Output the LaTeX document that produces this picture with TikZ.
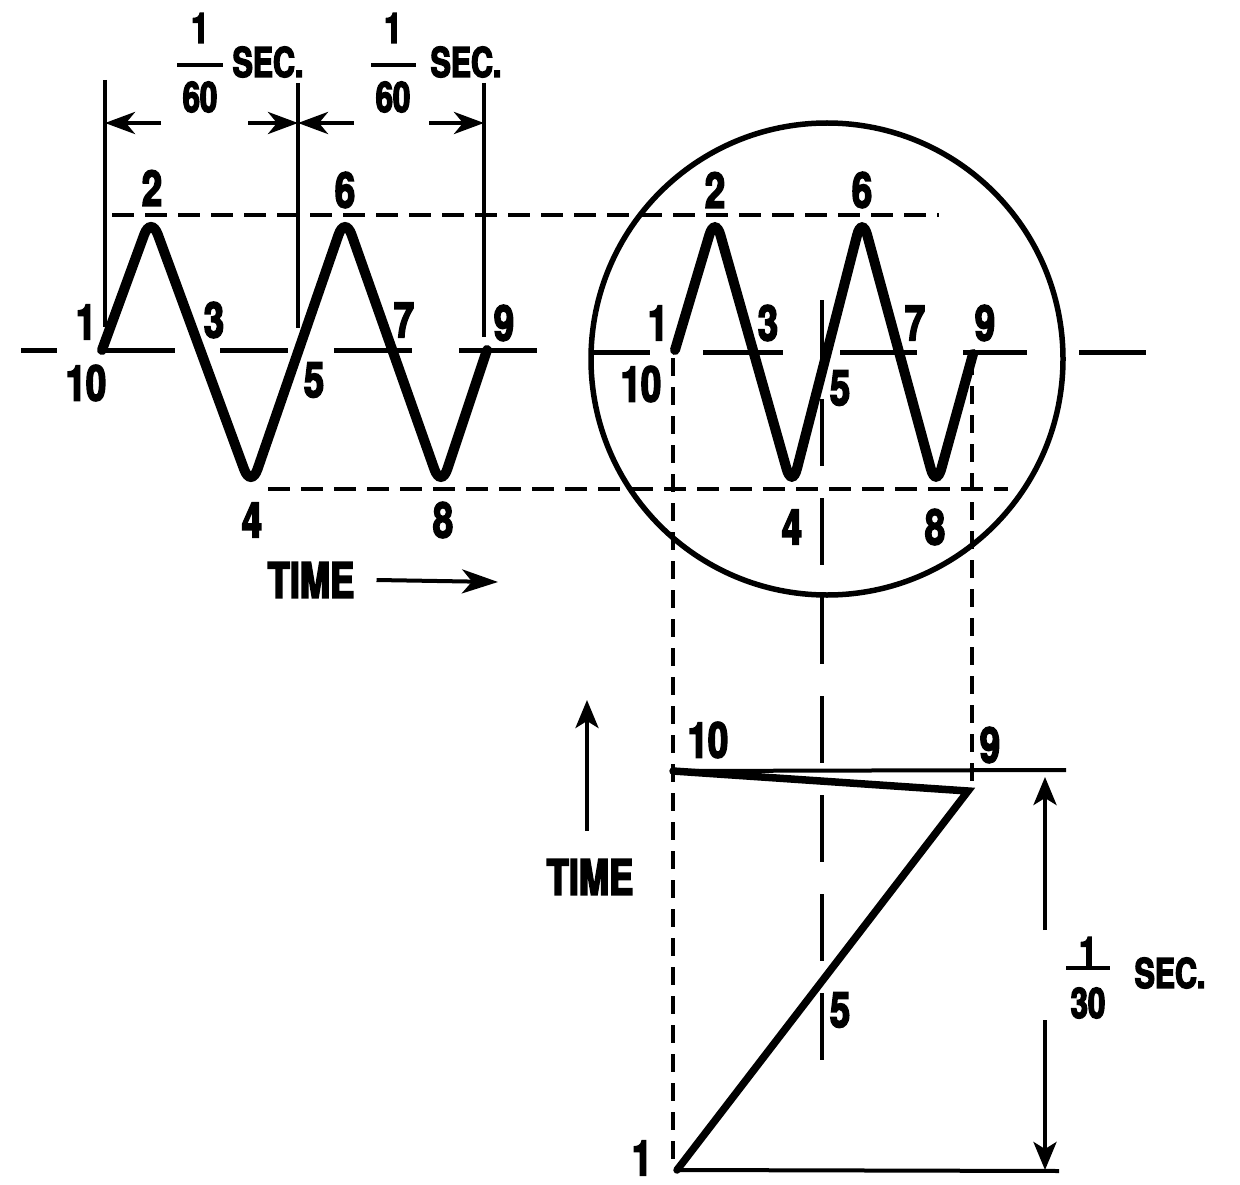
\documentclass[tikz,border=0pt]{standalone}
\usepackage{fontspec}
\newfontfamily\condfont{TeX Gyre Heros}[FakeStretch=0.74, BoldFeatures={FakeBold=3.5}]
\usetikzlibrary{arrows.meta}

\begin{document}
\begin{tikzpicture}[
    x=1pt, y=-1pt,
    wave/.style    ={line width=10pt, rounded corners=20pt, line cap=round},
    zpath/.style   ={line width=7.5pt, line cap=round},
    axisline/.style={line width=5pt},
    hline/.style   ={line width=4pt},
    hdash/.style   ={line width=4.5pt, dash pattern=on 22pt off 11pt},
    vdash/.style   ={line width=4pt, dash pattern=on 18pt off 11pt},
    ldash/.style   ={line width=4.5pt, dash pattern=on 67pt off 32pt},
    dim/.style     ={line width=4.5pt, -{Stealth[length=30pt, width=22pt, inset=9pt]}},
    timearrow/.style={line width=4pt, -{Stealth[length=36pt, width=24pt, inset=10pt]}},
    bigdim/.style  ={line width=4pt, -{Stealth[length=28pt, width=23pt, inset=7pt]}},
    num/.style     ={font=\condfont\bfseries\fontsize{49}{49}\selectfont, inner sep=0pt},
    frac/.style    ={font=\condfont\bfseries\fontsize{42}{42}\selectfont, inner sep=0pt},
    sec/.style     ={font=\condfont\bfseries\fontsize{41}{41}\selectfont, inner sep=0pt},
    fracbar/.style ={line width=4pt}
  ]
  \useasboundingbox (0,0) rectangle (1240,1185);

  % ---- dashed guides (peaks, troughs, projections) --------------------
  \draw[hdash] (112,215) -- (939,215);
  \draw[hdash] (268,489) -- (1008,489);
  \draw[vdash] (673,358) -- (673,1162);
  \draw[vdash] (972,357) -- (972,788);
  \draw[ldash] (822,300) -- (822,1060);

  % ---- left: signal against time --------------------------------------
  \draw[axisline] (21,350) -- (57,350);
  \draw[axisline] (105,350) -- (175,350);
  \draw[axisline] (220,350) -- (288,350);
  \draw[axisline] (334,350) -- (412,350);
  \draw[axisline] (459,350) -- (537,350);

  \coordinate (a1) at (102,350);
  \coordinate (a2) at (151,216);
  \coordinate (a4) at (251,488);
  \coordinate (a6) at (345,216);
  \coordinate (a8) at (441,488);
  \coordinate (a9) at (487,350);
  \draw[wave] (a1) -- (a2) -- (a4) -- (a6) -- (a8) -- (a9);

  \node[num] (l1)  at (86,322)  {1};
  \node[num] (l10) at (86,383)  {10};
  \node[num] (l2)  at (152,188) {2};
  \node[num] (l3)  at (214,320) {3};
  \node[num] (l4)  at (252,520) {4};
  \node[num] (l5)  at (314,380) {5};
  \node[num] (l6)  at (345,190) {6};
  \node[num] (l7)  at (404,320) {7};
  \node[num] (l8)  at (443,520) {8};
  \node[num] (l9)  at (504,323) {9};

  \node[num] (ltime) at (311,580) {TIME};
  \coordinate (ltimeend) at (498,582);
  \draw[timearrow] ([xshift=22pt]ltime.east) -- (ltimeend);

  % ---- 1/60 sec. dimensions -------------------------------------------
  \draw[hline] (105,80) -- (105,327);
  \draw[hline] (298,83) -- (298,328);
  \draw[hline] (484,83) -- (484,337);
  \draw[dim] (161,123) -- (105,123);
  \draw[dim] (248,123) -- (298,123);
  \draw[dim] (354,123) -- (298,123);
  \draw[dim] (429,123) -- (484,123);

  \node[frac] (fa1)  at (200,28) {1};
  \draw[fracbar] (177,65) -- (223,65);
  \node[frac] (fa60) at (200,97) {60};
  \node[sec]  (fasec) at (268,62) {SEC.};
  \node[frac] (fb1)  at (393,28) {1};
  \draw[fracbar] (371,65) -- (416,65);
  \node[frac] (fb60) at (393,97) {60};
  \node[sec]  (fbsec) at (466,62) {SEC.};

  % ---- tube face ------------------------------------------------------
  \node[draw, circle, line width=5.5pt, minimum size=472pt, inner sep=0pt]
      (tube) at (827,359) {};
  \draw[axisline] (593,352) -- (650,352);
  \draw[axisline] (703,352) -- (783,352);
  \draw[axisline] (840,352) -- (917,352);
  \draw[axisline] (963,352) -- (1027,352);
  \draw[axisline] (1079,352) -- (1146,352);

  \coordinate (b1) at (675,350);
  \coordinate (b2) at (715,216);
  \coordinate (b4) at (792,488);
  \coordinate (b6) at (862,216);
  \coordinate (b8) at (936,488);
  \coordinate (b9) at (973,354);
  \draw[wave] (b1) -- (b2) -- (b4) -- (b6) -- (b8) -- (b9);

  \node[num] (c1)  at (658,323) {1};
  \node[num] (c10) at (641,384) {10};
  \node[num] (c2)  at (715,190) {2};
  \node[num] (c3)  at (768,323) {3};
  \node[num] (c4)  at (792,527) {4};
  \node[num] (c5)  at (840,388) {5};
  \node[num] (c6)  at (862,190) {6};
  \node[num] (c7)  at (915,323) {7};
  \node[num] (c8)  at (935,527) {8};
  \node[num] (c9)  at (985,323) {9};

  % ---- vertical sweep (Z) ---------------------------------------------
  \coordinate (z10) at (673,771);
  \coordinate (z9)  at (968,791);
  \coordinate (z1)  at (677,1170);
  \coordinate (ztopR) at (1066,770);
  \coordinate (zbotR) at (1059,1171);
  \draw[hline] (z10) -- (ztopR);
  \draw[hline] (z1) -- (zbotR);
  \draw[zpath] (z10) -- (z9) -- (z1);

  \node[num] (zl10) at (708,740)  {10};
  \node[num] (zl9)  at (990,745)  {9};
  \node[num] (zl5)  at (840,1010) {5};
  \node[num] (zl1)  at (642,1158) {1};

  \node[num] (ztime) at (590,877) {TIME};
  \coordinate (zup) at (587,700);
  \draw[bigdim] ([yshift=28pt]ztime.north -| zup) -- (zup);

  % ---- 1/30 sec. dimension --------------------------------------------
  \draw[bigdim] (1045,930) -- (1045,777);
  \draw[bigdim] (1045,1020) -- (1045,1170);
  \node[frac] (fc1)  at (1088,952)  {1};
  \draw[fracbar] (1066,968) -- (1110,968);
  \node[frac] (fc30) at (1088,1003) {30};
  \node[sec]  (fcsec) at (1170,973) {SEC.};

\end{tikzpicture}
\end{document}
